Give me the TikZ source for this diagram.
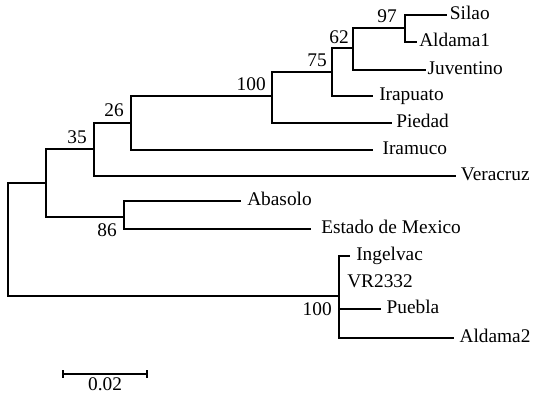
\documentclass[tikz,border=0pt]{standalone}
\usepackage{fontspec}
\setmainfont{Liberation Serif}
\usetikzlibrary{calc}
\begin{document}
\begin{tikzpicture}[x=0.75pt,y=-0.75pt,
  branch/.style={line width=1.5pt},
  lab/.style={font=\fontsize{14.5}{17}\selectfont},
  leaf/.style={lab, anchor=west, inner xsep=#1, inner ysep=0pt, text height=0.66em, text depth=0pt},
  leaf/.default=3.5pt,
  bootabove/.style={lab, anchor=base east, inner sep=0pt},
  scalelab/.style={lab, anchor=north, inner sep=1pt}]
\useasboundingbox (0,0) rectangle (535,397);
% internal nodes
\coordinate (R) at (8,240);
\coordinate (A) at (46,183);
\coordinate (B) at (94,149);
\coordinate (C) at (131,123);
\coordinate (D) at (272,96);
\coordinate (E) at (332,72);
\coordinate (F) at (353,48);
\coordinate (G) at (405,28);
\coordinate (H) at (124,217);
\coordinate (I) at (339,296);
% leaves
\node[leaf=2pt] (silao) at (447,15) {Silao};
\node[leaf=1.5pt] (ald1) at (417,42) {Aldama1};
\node[leaf=1pt] (juv) at (426,70) {Juventino};
\node[leaf=4.5pt] (ira) at (373,96) {Irapuato};
\node[leaf=3pt] (pie) at (392,123) {Piedad};
\node[leaf=7pt] (iram) at (373,150) {Iramuco};
\node[leaf] (ver) at (456,176) {Veracruz};
\node[leaf=4.5pt] (aba) at (241,201) {Abasolo};
\node[leaf=7.5pt] (est) at (311,229) {Estado de Mexico};
\node[leaf=4.5pt] (ing) at (350,256) {Ingelvac};
\node[lab, anchor=west, inner sep=0pt] (vr) at (347,281) {VR2332};
\node[leaf=4pt] (pue) at (381,309) {Puebla};
\node[leaf=4pt] (ald2) at (454,338) {Aldama2};
% branches
\draw[branch] (R) |- (A);
\draw[branch] (R) |- (I);
\draw[branch] (A) |- (B);
\draw[branch] (A) |- (H);
\draw[branch] (B) |- (C);
\draw[branch] (B) |- (ver);
\draw[branch] (C) |- (D);
\draw[branch] (C) |- (iram);
\draw[branch] (D) |- (E);
\draw[branch] (D) |- (pie);
\draw[branch] (E) |- (F);
\draw[branch] (E) |- (ira);
\draw[branch] (F) |- (G);
\draw[branch] (F) |- (juv);
\draw[branch] (G) |- (silao);
\draw[branch] (G) |- (ald1);
\draw[branch] (H) |- (aba);
\draw[branch] (H) |- (est);
\draw[branch] (I) |- (ing);
\draw[branch] (I) |- (pue);
\draw[branch] (I) |- (ald2);
% bootstrap values
\node[bootabove] (bG) at ($(G)+(-8,-6)$) {97};
\node[bootabove] (bF) at ($(F)+(-4,-5)$) {62};
\node[bootabove] (bE) at ($(E)+(-5,-6)$) {75};
\node[bootabove] (bD) at ($(D)+(-6,-6)$) {100};
\node[bootabove] (bC) at ($(C)+(-7,-7)$) {26};
\node[bootabove] (bB) at ($(B)+(-7,-6)$) {35};
\node[bootabove] (bH) at ($(H)+(-7,19)$) {86};
\node[bootabove] (bI) at ($(I)+(-7,19)$) {100};
% scale bar
\coordinate (s1) at (63,374);
\coordinate (s2) at (147,374);
\draw[branch] (s1) -- (s2);
\draw[branch] ($(s1)+(0,-4)$) -- ($(s1)+(0,4)$);
\draw[branch] ($(s2)+(0,-4)$) -- ($(s2)+(0,4)$);
\node[scalelab] (sl) at ($(s1)!0.5!(s2)+(0,2)$) {0.02};
\end{tikzpicture}
\end{document}
